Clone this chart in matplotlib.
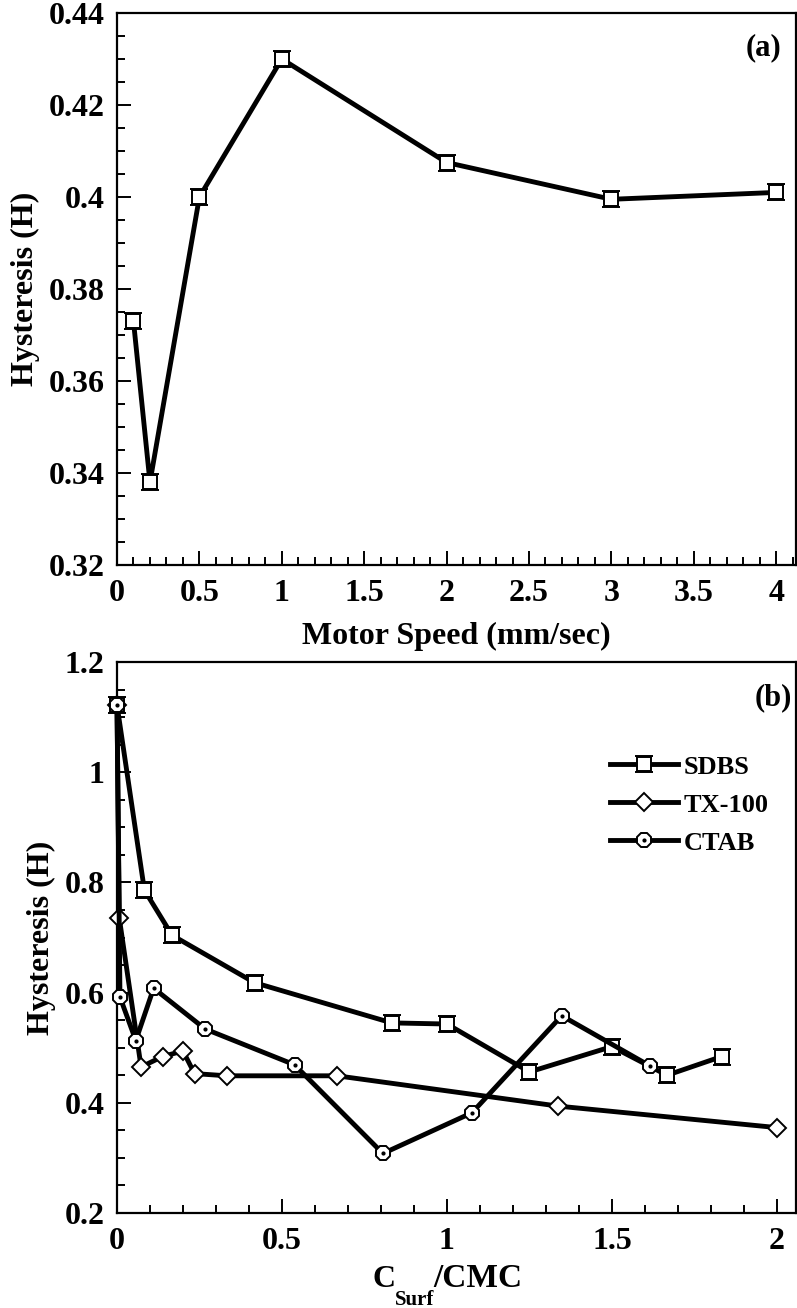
import matplotlib
matplotlib.use("Agg")
import matplotlib.pyplot as plt
from matplotlib.path import Path
from matplotlib.ticker import MultipleLocator, FuncFormatter
from matplotlib.legend_handler import HandlerTuple

# ---- data ----
speed = [0.1, 0.2, 0.5, 1.0, 2.0, 3.0, 4.0]
hyst_a = [0.373, 0.338, 0.400, 0.430, 0.4075, 0.3995, 0.401]

sdbs_x = [0, 0.083, 0.167, 0.417, 0.833, 1.0, 1.25, 1.5, 1.667, 1.833]
sdbs_y = [1.122, 0.786, 0.704, 0.618, 0.545, 0.543, 0.456, 0.502, 0.450, 0.484]
tx_x = [0, 0.007, 0.073, 0.138, 0.2, 0.235, 0.333, 0.667, 1.337, 2.0]
tx_y = [1.122, 0.735, 0.465, 0.484, 0.494, 0.453, 0.449, 0.449, 0.394, 0.355]
ctab_x = [0, 0.009, 0.057, 0.111, 0.267, 0.538, 0.806, 1.076, 1.348, 1.615]
ctab_y = [1.122, 0.592, 0.513, 0.608, 0.534, 0.469, 0.308, 0.382, 0.558, 0.467]

labels_b = ["SDBS", "TX-100", "CTAB"]

plt.rcParams['font.family'] = ['Liberation Serif', 'DejaVu Serif']
plt.rcParams['font.weight'] = 'bold'

# square with caps marker
verts = [(-1, -1), (1, -1), (1, 1), (-1, 1), (-1, -1),
         (-1.3, 1.15), (1.3, 1.15),
         (-1.3, -1.15), (1.3, -1.15)]
codes = [Path.MOVETO, Path.LINETO, Path.LINETO, Path.LINETO, Path.CLOSEPOLY,
         Path.MOVETO, Path.LINETO, Path.MOVETO, Path.LINETO]
sq_marker = Path(verts, codes)

W, H = 797, 1308
fig = plt.figure(figsize=(W / 100, H / 100), dpi=100)

def px_axes(l, t, r, b):
    return fig.add_axes([l / W, 1 - b / H, (r - l) / W, (b - t) / H])

ax1 = px_axes(117, 13, 796, 565)
ax2 = px_axes(117, 662, 796, 1213)

LW = 3.5
FS = 23
SQ_MS = 12.5

def style(ax):
    for s in ax.spines.values():
        s.set_linewidth(1.6)
    ax.tick_params(which='both', direction='in', top=False, right=False,
                   labelsize=FS, width=1.4)
    ax.tick_params(which='major', length=10)
    ax.tick_params(which='minor', length=5.5)
    ax.tick_params(axis='x', pad=10)
    ax.tick_params(axis='y', pad=9)
    fmt = FuncFormatter(lambda v, p: ('%g' % round(v, 4)))
    ax.xaxis.set_major_formatter(fmt)
    ax.yaxis.set_major_formatter(fmt)
    for lab in ax.get_xticklabels() + ax.get_yticklabels():
        lab.set_fontweight('bold')

# ---- panel a ----
ax1.plot(speed, hyst_a, color='black', lw=LW, marker=sq_marker, ms=SQ_MS,
         mfc='white', mec='black', mew=1.4, clip_on=False, zorder=3)
ax1.set_xlim(0, 4.12)
ax1.set_ylim(0.32, 0.44)
ax1.xaxis.set_major_locator(MultipleLocator(0.5))
ax1.xaxis.set_minor_locator(MultipleLocator(0.1))
ax1.yaxis.set_major_locator(MultipleLocator(0.02))
ax1.yaxis.set_minor_locator(MultipleLocator(0.005))
style(ax1)
ax1.set_xlabel('Motor Speed (mm/sec)', fontsize=FS, fontweight='bold', labelpad=10)
ax1.set_ylabel('Hysteresis (H)', fontsize=FS, fontweight='bold', labelpad=6)
ax1.text(0.978, 0.9375, '(a)', transform=ax1.transAxes, fontsize=22,
         fontweight='bold', ha='right', va='center')

# ---- panel b ----
l1, = ax2.plot(sdbs_x, sdbs_y, color='black', lw=LW, marker=sq_marker, ms=SQ_MS,
               mfc='white', mec='black', mew=1.4, clip_on=False, zorder=3)
l2, = ax2.plot(tx_x, tx_y, color='black', lw=LW, marker='D', ms=9.5,
               mfc='white', mec='black', mew=1.4, clip_on=False, zorder=4)
l3, = ax2.plot(ctab_x, ctab_y, color='black', lw=LW, marker='8', ms=11.5,
               mfc='white', mec='black', mew=1.4, clip_on=False, zorder=5)
l3d, = ax2.plot(ctab_x, ctab_y, ls='none', marker='o', ms=2, color='black',
                clip_on=False, zorder=6)
ax2.set_xlim(0, 2.058)
ax2.set_ylim(0.2, 1.2)
ax2.xaxis.set_major_locator(MultipleLocator(0.5))
ax2.xaxis.set_minor_locator(MultipleLocator(0.1))
ax2.yaxis.set_major_locator(MultipleLocator(0.2))
ax2.yaxis.set_minor_locator(MultipleLocator(0.05))
style(ax2)
ax2.set_ylabel('Hysteresis (H)', fontsize=FS, fontweight='bold', labelpad=6)
ax2.text(0.994, 0.935, '(b)', transform=ax2.transAxes, fontsize=22,
         fontweight='bold', ha='right', va='center')

# x label of panel b: C with a low, large subscript "Surf", then "/CMC"
fig.text(372 / W, 1 - 1287 / H, 'C', fontsize=FS, fontweight='bold',
         ha='left', va='baseline')
fig.text(395 / W, 1 - 1305 / H, 'Surf', fontsize=15, fontweight='bold',
         ha='left', va='baseline')
fig.text(433 / W, 1 - 1287 / H, '/CMC', fontsize=FS + 1, fontweight='bold',
         ha='left', va='baseline')

leg = ax2.legend([l1, l2, (l3, l3d)], labels_b,
                 handler_map={tuple: HandlerTuple(ndivide=1)},
                 loc='upper left', bbox_to_anchor=(0.71, 0.85),
                 frameon=False, fontsize=19, handlelength=2.6,
                 handletextpad=0.2, labelspacing=0.55, borderaxespad=0)
for t in leg.get_texts():
    t.set_fontweight('bold')

fig.savefig('out.png', dpi=100)
